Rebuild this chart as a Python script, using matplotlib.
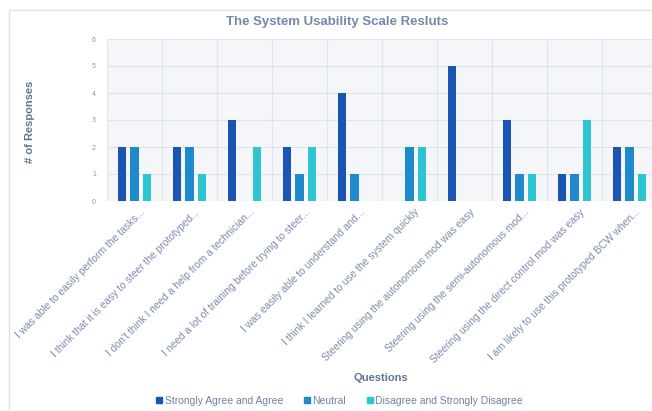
import matplotlib
matplotlib.use("Agg")
import matplotlib.pyplot as plt
import matplotlib.transforms as mtransforms
import numpy as np
from matplotlib.patches import Rectangle
from matplotlib.lines import Line2D

questions = [
    "I was able to easily perform the tasks...",
    "I think that it is easy to steer the prototyped...",
    "I don't think I need a help from a technician...",
    "I need a lot of training before trying to steer...",
    "I was easily able to understand and...",
    "I think I learned to use the system quickly",
    "Steering using the autonomous mod was easy",
    "Steering using the semi-autonomous mod...",
    "Steering using the direct control mod was easy",
    "I am likely to use this prototyped BCW when...",
]
series_names = ["Strongly Agree and Agree", "Neutral", "Disagree and Strongly Disagree"]
agree = [2, 2, 3, 2, 4, 0, 5, 3, 1, 2]
neutral = [2, 2, 0, 1, 1, 2, 0, 1, 1, 2]
disagree = [1, 1, 2, 2, 0, 2, 0, 1, 3, 1]
yticks = [0, 1, 2, 3, 4, 5, 6]

colors = ["#1b55b3", "#1f8acb", "#2dc5cf"]
text_col = "#7489aa"

plt.rcParams['font.family'] = ['Liberation Sans', 'DejaVu Sans']

fig = plt.figure(figsize=(6.52, 4.11), dpi=100)
fig.patch.set_facecolor("white")

# outer frame
fig.patches.append(Rectangle((9/652, -0.1), 1.2, 1 - 10/411 + 0.1, transform=fig.transFigure,
                             fill=False, edgecolor="#dde1e7", linewidth=1.0))

ax = fig.add_axes([107/652, 1 - 201/411, 550/652, 162/411])
ax.set_facecolor("#f4f6f9")

n = len(questions)
x = np.arange(n)
w = 0.15
off = 0.225
for vals, c, o in zip([agree, neutral, disagree], colors, [-off, 0, off]):
    ax.bar(x + o, vals, width=w, color=c, zorder=3)

ax.set_xlim(-0.5, n - 0.5)
ax.set_ylim(0, 6)
ax.set_yticks(yticks)
ax.set_yticklabels([str(v) for v in yticks], fontsize=5, color="#8a96a8")
ax.set_xticks(x)
ax.set_xticklabels([])
shift = mtransforms.ScaledTranslation(5/100, -6/100, fig.dpi_scale_trans)
for xi, q in zip(x, questions):
    ax.text(xi, 0, q, transform=ax.get_xaxis_transform() + shift, rotation=45,
            ha="right", va="top", rotation_mode="anchor", fontsize=7.4, color="#7b8cab")
ax.set_xticks(np.arange(n + 1) - 0.5, minor=True)
ax.grid(True, which="minor", axis="x", color="#e1e5eb", linewidth=0.8, zorder=0)
ax.grid(True, which="major", axis="y", color="#e1e5eb", linewidth=0.8, zorder=0)
ax.tick_params(axis="both", which="both", length=0)
ax.tick_params(axis="y", pad=8)
for s in ax.spines.values():
    s.set_visible(False)

fig.text(337/652, 1 - 22/411, "The System Usability Scale Resluts", ha="center", va="center",
         fontsize=9.5, fontweight="bold", color=text_col)
fig.text(30/652, 1 - 122/411, "# of Responses", ha="center", va="center", rotation=90,
         fontsize=8, fontweight="bold", color="#5f7596")
fig.text(381/652, 1 - 378/411, "Questions", ha="center", va="center",
         fontsize=8, fontweight="bold", color="#5f7596")

handles = [Line2D([], [], marker="s", linestyle="", markersize=4, color=c) for c in colors]
fig.legend(handles, series_names, loc="center", bbox_to_anchor=(339/652, 1 - 401/411), ncol=3,
           frameon=False, fontsize=7.5, labelcolor="#6f83a3", handletextpad=0.1,
           columnspacing=1.9, handlelength=0.8)

fig.savefig("out.png", dpi=100)
